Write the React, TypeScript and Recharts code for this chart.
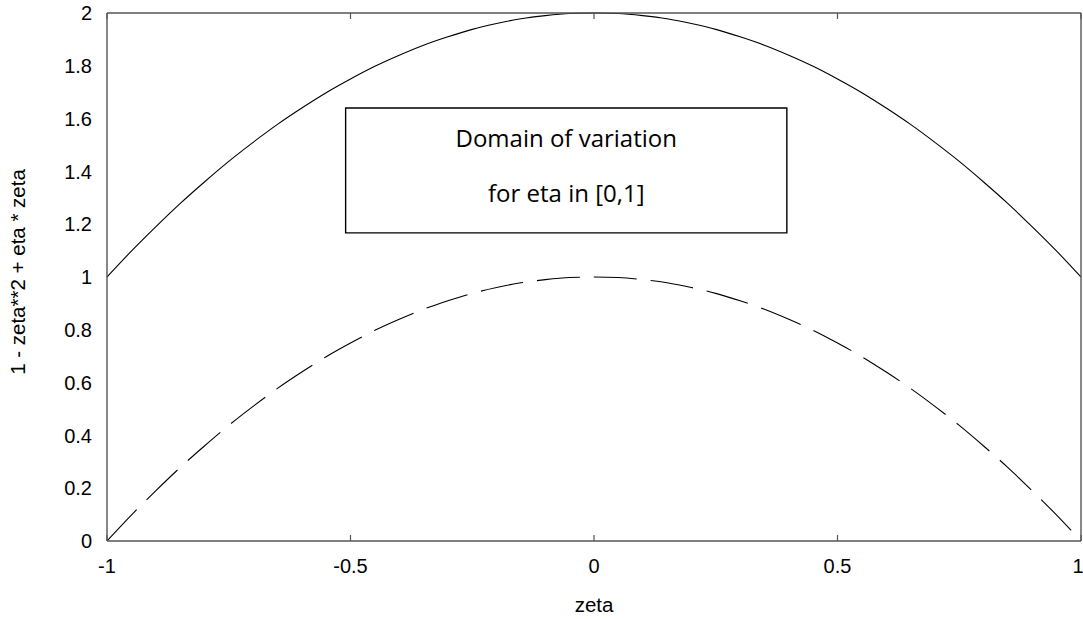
import { LineChart, Line, XAxis, YAxis, ReferenceArea, Label } from 'recharts';

const zeta = [
  -1, -0.95, -0.9, -0.85, -0.8, -0.75, -0.7, -0.65, -0.6, -0.55, -0.5, -0.45, -0.4, -0.35, -0.3, -0.25, -0.2, -0.15,
  -0.1, -0.05, 0, 0.05, 0.1, 0.15, 0.2, 0.25, 0.3, 0.35, 0.4, 0.45, 0.5, 0.55, 0.6, 0.65, 0.7, 0.75, 0.8, 0.85, 0.9,
  0.95, 1,
];
const upperCurve = [
  1.0, 1.098, 1.19, 1.278, 1.36, 1.438, 1.51, 1.578, 1.64, 1.698, 1.75, 1.798, 1.84, 1.878, 1.91, 1.938, 1.96, 1.978,
  1.99, 1.998, 2.0, 1.998, 1.99, 1.978, 1.96, 1.938, 1.91, 1.878, 1.84, 1.798, 1.75, 1.698, 1.64, 1.578, 1.51, 1.438,
  1.36, 1.278, 1.19, 1.098, 1.0,
];
const lowerCurve = [
  0.0, 0.098, 0.19, 0.278, 0.36, 0.438, 0.51, 0.578, 0.64, 0.698, 0.75, 0.798, 0.84, 0.878, 0.91, 0.938, 0.96, 0.978,
  0.99, 0.998, 1.0, 0.998, 0.99, 0.978, 0.96, 0.938, 0.91, 0.878, 0.84, 0.798, 0.75, 0.698, 0.64, 0.578, 0.51, 0.438,
  0.36, 0.278, 0.19, 0.098, 0.0,
];
const xTicks = [-1, -0.5, 0, 0.5, 1];
const yTicks = [0, 0.2, 0.4, 0.6, 0.8, 1, 1.2, 1.4, 1.6, 1.8, 2];
const boxZeta = [-0.51, 0.396];
const boxValue = [1.167, 1.64];
const boxLines = ['Domain of variation', 'for eta in [0,1]'];

const rows = zeta.map((z, i) => ({ zeta: z, upper: upperCurve[i], lower: lowerCurve[i] }));

const axisColor = '#555';
const tickFont = { fontSize: 20, fontFamily: 'Liberation Sans, Arial, sans-serif', fill: '#000' };
const labelFont = { fontSize: 20.5, fontFamily: 'Liberation Sans, Arial, sans-serif', fill: '#000' };
const boxFont = { fontSize: 24, fontFamily: 'Open Sans, sans-serif', fill: '#000' };

const Blank = () => <g />;

export default function App() {
  return (
    <div style={{ position: 'absolute', left: 0, top: 0, background: '#fff' }}>
      <LineChart width={1083} height={619} data={rows} margin={{ top: 13, right: 2, bottom: 0, left: 0 }}>
        <XAxis
          xAxisId="b"
          dataKey="zeta"
          type="number"
          domain={[-1, 1]}
          ticks={xTicks}
          height={78}
          tickLine={false}
          tickMargin={12}
          axisLine={{ stroke: axisColor, strokeWidth: 1.4 }}
          tick={tickFont}
        >
          <Label value="zeta" position="insideBottom" offset={7} {...labelFont} />
        </XAxis>
        <XAxis
          xAxisId="bIn"
          dataKey="zeta"
          type="number"
          domain={[-1, 1]}
          ticks={xTicks}
          mirror
          axisLine={false}
          tickSize={6}
          tickLine={{ stroke: axisColor, strokeWidth: 1.2 }}
          tick={Blank}
        />
        <XAxis
          xAxisId="t"
          orientation="top"
          dataKey="zeta"
          type="number"
          domain={[-1, 1]}
          ticks={xTicks}
          mirror
          tickSize={6}
          axisLine={{ stroke: axisColor, strokeWidth: 1.4 }}
          tickLine={{ stroke: axisColor, strokeWidth: 1.2 }}
          tick={Blank}
        />
        <YAxis
          yAxisId="l"
          type="number"
          domain={[0, 2]}
          ticks={yTicks}
          width={107}
          tickLine={false}
          tickMargin={9}
          axisLine={{ stroke: axisColor, strokeWidth: 1.4 }}
          tick={tickFont}
        >
          <Label
            value="1 - zeta**2 + eta * zeta"
            angle={-90}
            position="insideLeft"
            offset={18}
            dy={-5}
            style={{ textAnchor: 'middle' }}
            {...labelFont}
          />
        </YAxis>
        <YAxis
          yAxisId="lIn"
          type="number"
          domain={[0, 2]}
          ticks={yTicks}
          mirror
          axisLine={false}
          tickSize={7}
          tickLine={{ stroke: axisColor, strokeWidth: 1.2 }}
          tick={Blank}
        />
        <YAxis
          yAxisId="r"
          orientation="right"
          type="number"
          domain={[0, 2]}
          ticks={yTicks}
          mirror
          tickSize={7}
          axisLine={{ stroke: axisColor, strokeWidth: 1.4 }}
          tickLine={{ stroke: axisColor, strokeWidth: 1.2 }}
          tick={Blank}
        />
        <ReferenceArea
          xAxisId="b"
          yAxisId="l"
          x1={boxZeta[0]}
          x2={boxZeta[1]}
          y1={boxValue[0]}
          y2={boxValue[1]}
          fill="#fff"
          fillOpacity={1}
          stroke="#000"
          strokeWidth={1.4}
        >
          <Label value={boxLines[0]} position="insideTop" offset={22} {...boxFont} />
          <Label value={boxLines[1]} position="insideBottom" offset={31} {...boxFont} />
        </ReferenceArea>
        <Line
          xAxisId="b"
          yAxisId="l"
          dataKey="upper"
          type="monotone"
          stroke="#000"
          strokeWidth={1.1}
          dot={false}
          isAnimationActive={false}
        />
        <Line
          xAxisId="b"
          yAxisId="l"
          dataKey="lower"
          type="monotone"
          stroke="#000"
          strokeWidth={1.1}
          strokeDasharray="43 14"
          dot={false}
          isAnimationActive={false}
        />
      </LineChart>
    </div>
  );
}
